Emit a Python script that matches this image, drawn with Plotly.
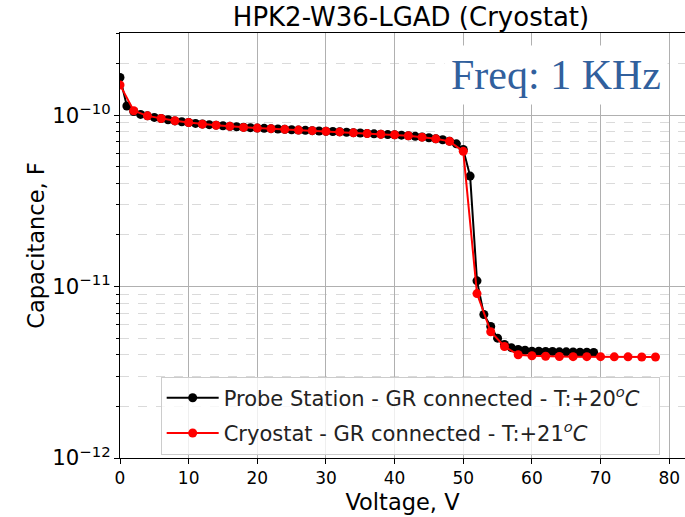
import plotly.graph_objects as go

# ---- data ----
v_probe = [0, 1, 2, 3, 4, 5, 6, 7, 8, 9, 10, 11, 12, 13, 14, 15, 16, 17, 18, 19,
           20, 21, 22, 23, 24, 25, 26, 27, 28, 29, 30, 31, 32, 33, 34, 35, 36, 37, 38, 39,
           40, 41, 42, 43, 44, 45, 46, 47, 48, 49, 50, 51, 52, 53, 54, 55, 56, 57, 58, 59,
           60, 61, 62, 63, 64, 65, 66, 67, 68, 69]
c_probe = [1.66e-10, 1.13e-10, 1.05e-10, 1.01e-10, 0.99e-10, 0.97e-10, 0.955e-10, 0.94e-10,
           0.925e-10, 0.915e-10, 0.905e-10, 0.895e-10, 0.887e-10, 0.88e-10, 0.874e-10,
           0.867e-10, 0.86e-10, 0.855e-10, 0.85e-10, 0.845e-10, 0.84e-10, 0.837e-10,
           0.834e-10, 0.83e-10, 0.826e-10, 0.822e-10, 0.818e-10, 0.815e-10, 0.812e-10,
           0.808e-10, 0.805e-10, 0.802e-10, 0.799e-10, 0.795e-10, 0.79e-10, 0.786e-10,
           0.782e-10, 0.778e-10, 0.774e-10, 0.77e-10, 0.768e-10, 0.764e-10, 0.758e-10,
           0.752e-10, 0.745e-10, 0.738e-10, 0.728e-10, 0.718e-10, 0.705e-10, 0.68e-10,
           0.63e-10, 4.41e-11, 1.08e-11, 6.87e-12, 5.85e-12, 5.0e-12, 4.6e-12, 4.4e-12,
           4.3e-12, 4.25e-12, 4.2e-12, 4.2e-12, 4.18e-12, 4.18e-12, 4.16e-12, 4.16e-12,
           4.15e-12, 4.14e-12, 4.14e-12, 4.13e-12]

v_cryo = [0, 2, 4, 6, 8, 10, 12, 14, 16, 18, 20, 22, 24, 26, 28, 30, 32, 34, 36, 38,
          40, 42, 44, 46, 48, 50, 52, 54, 56, 58, 60, 62, 64, 66, 68, 70, 72, 74, 76, 78]
c_cryo = [1.50e-10, 1.06e-10, 0.99e-10, 0.955e-10, 0.927e-10, 0.905e-10, 0.886e-10,
          0.873e-10, 0.86e-10, 0.848e-10, 0.84e-10, 0.834e-10, 0.826e-10, 0.818e-10,
          0.812e-10, 0.804e-10, 0.798e-10, 0.788e-10, 0.78e-10, 0.773e-10, 0.768e-10,
          0.758e-10, 0.744e-10, 0.727e-10, 0.703e-10, 0.615e-10, 9.1e-12, 5.45e-12,
          4.47e-12, 4.0e-12, 3.95e-12, 3.92e-12, 3.91e-12, 3.9e-12, 3.9e-12, 3.9e-12,
          3.89e-12, 3.89e-12, 3.88e-12, 3.88e-12]

x_ticks = [0, 10, 20, 30, 40, 50, 60, 70, 80]
name_probe = "Probe Station - GR connected - T:+20<sup><i>o</i></sup><i>C</i>  "
name_cryo = "Cryostat - GR connected - T:+21<sup><i>o</i></sup><i>C</i>"
title_text = "HPK2-W36-LGAD (Cryostat)"
freq_text = "Freq: 1 KHz"

FONT = "DejaVu Sans"

fig = go.Figure()
fig.add_trace(go.Scatter(x=v_probe, y=c_probe, mode="lines+markers", name=name_probe,
                         legendgroup="a",
                         line=dict(color="black", width=2),
                         marker=dict(color="black", size=9)))
fig.add_trace(go.Scatter(x=v_cryo, y=c_cryo, mode="lines+markers", name=name_cryo,
                         legendgroup="b",
                         line=dict(color="#ff0000", width=2),
                         marker=dict(color="#ff0000", size=9)))

fig.update_layout(
    width=685, height=517, autosize=False,
    margin=dict(l=120, r=0, t=33, b=59),
    paper_bgcolor="white", plot_bgcolor="white",
    font=dict(family=FONT, color="black", size=17),
    title=dict(text=title_text, font=dict(family=FONT, size=26, color="black"),
               x=411 / 685, xref="container", xanchor="center",
               y=1 - 17 / 517, yref="container", yanchor="middle"),
    showlegend=True,
    legend=dict(x=0.072, y=0.008, xanchor="left", yanchor="bottom",
                bgcolor="rgba(255,255,255,0.8)", bordercolor="#cccccc", borderwidth=1,
                font=dict(family=FONT, size=21, color="#222222"),
                tracegroupgap=5, itemwidth=52),
    xaxis=dict(range=[0, 82.3], tickvals=x_ticks, ticks="outside", ticklen=5,
               tickcolor="black", showline=True, mirror=True, linecolor="black",
               linewidth=1, showgrid=True, gridcolor="#b0b0b0", gridwidth=1,
               zeroline=False,
               title=dict(text="Voltage, V", font=dict(family=FONT, size=22.5),
                          standoff=6),
               tickfont=dict(family=FONT, size=17)),
    yaxis=dict(type="log", range=[-12, -9.521], dtick=1, exponentformat="power",
               ticks="outside", ticklen=5, tickcolor="black",
               showline=True, mirror=True, linecolor="black", linewidth=1,
               showgrid=True, gridcolor="#b0b0b0", gridwidth=1, zeroline=False,
               minor=dict(dtick="D1", ticks="outside", ticklen=3, tickcolor="black",
                          showgrid=True, gridcolor="#dadada", griddash="dash",
                          gridwidth=1),
               title=dict(text="Capacitance, F", font=dict(family=FONT, size=22.5),
                          standoff=1),
               tickfont=dict(family=FONT, size=17)),
)

fig.add_annotation(text=freq_text, xref="paper", yref="paper",
                   x=(555.5 - 120) / 565, y=(458 - 75) / 425,
                   xanchor="center", yanchor="middle", showarrow=False,
                   font=dict(family="Liberation Serif", size=42, color="#31609d"),
                   bgcolor="white", borderpad=6)

fig.write_html("out.html")
